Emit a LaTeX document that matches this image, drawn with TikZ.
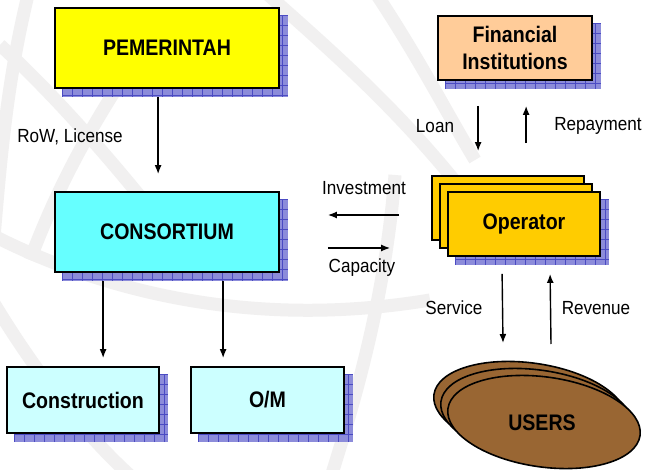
\documentclass[tikz,border=0pt]{standalone}
\usepackage{fontspec}
\setmainfont{Liberation Sans}
\newfontfamily\boxfont{Liberation Sans}[FakeStretch=0.87]
\newfontfamily\lblfont{Liberation Sans}[FakeStretch=0.9]
\usetikzlibrary{arrows.meta,calc,shapes.geometric,backgrounds}

\definecolor{govyellow}{RGB}{255,255,0}
\definecolor{consortcyan}{RGB}{102,255,255}
\definecolor{palecyan}{RGB}{204,255,255}
\definecolor{peach}{RGB}{255,204,153}
\definecolor{opgold}{RGB}{255,204,0}
\definecolor{userbrown}{RGB}{153,102,51}
\definecolor{shadefill}{RGB}{140,140,218}
\definecolor{shadeline}{RGB}{75,75,195}
\definecolor{globegray}{RGB}{241,240,240}

\tikzset{
  box/.style={draw=black, line width=1.8pt, rectangle, inner sep=0pt,
    align=center, font=\boxfont\bfseries\fontsize{22.5}{27}\selectfont},
  userell/.style={draw=black, line width=1.6pt, ellipse, fill=userbrown,
    minimum width=194pt, minimum height=90pt, inner sep=0pt, rotate=-8},
  boxtext/.style={inner sep=0pt, font=\boxfont\bfseries\fontsize{22.5}{27}\selectfont},
  lbl/.style={inner sep=0pt, font=\lblfont\fontsize{19}{22}\selectfont},
  arr/.style={line width=1.4pt, -{Latex[length=9pt,width=7pt]}},
  globe/.style={draw=globegray, line width=13pt},
}

% hatched drop shadow, offset 8 right and 8 down, drawn behind a box node
\newcommand\boxshade[1]{%
  \begin{pgfonlayer}{background}
  \begin{scope}
    \clip ($(#1.north west)+(8,8)$) rectangle ($(#1.south east)+(8,8)$);
    \fill[shadefill] ($(#1.north west)+(8,8)$) rectangle ($(#1.south east)+(8,8)$);
    \foreach \k in {0,...,25}{
      \draw[shadeline, line width=0.6pt] ($(#1.north west)+(8+10*\k,0)$) -- ++(0,300);
      \draw[shadeline, line width=0.6pt] ($(#1.north west)+(0,8+10*\k)$) -- ++(700,0);
    }
  \end{scope}
  \end{pgfonlayer}}

\begin{document}
\begin{tikzpicture}[x=1pt, y=-1pt]
\useasboundingbox (0,0) rectangle (645,470);

% faint globe watermark
\begin{pgfonlayer}{background}
\begin{scope}
  \clip (0,0) rectangle (645,470);
  \fill[white] (0,0) rectangle (645,470);
  \draw[globe] (28,-5) .. controls (5,90) and (0,170) .. (-8,260);
  \draw[globe] (-8,300) .. controls (40,380) and (90,440) .. (135,480);
  \draw[globe] (265,-8) .. controls (330,50) and (400,110) .. (470,200);
  \draw[globe] (395,175) .. controls (385,300) and (355,400) .. (330,480);
  \draw[globe] (-8,235) .. controls (100,290) and (250,330) .. (430,300);
  \draw[globe] (375,-8) .. controls (420,60) and (445,110) .. (475,160);
  \draw[globe] (0,45) .. controls (60,100) and (120,170) .. (175,240);
  \draw[globe] (135,60) .. controls (95,120) and (60,180) .. (30,260);
\end{scope}
\end{pgfonlayer}

% boxes
\node[box, fill=govyellow, minimum width=224pt, minimum height=80pt] (pem) at (167,48) {PEMERINTAH};
\node[box, fill=peach, minimum width=154pt, minimum height=64pt] (fin) at (515,48) {Financial\\Institutions};
\node[box, fill=consortcyan, minimum width=224pt, minimum height=80pt] (cons) at (167,232) {CONSORTIUM};
\node[box, fill=palecyan, minimum width=152pt, minimum height=66pt] (constr) at (83,400) {Construction};
\node[box, fill=palecyan, minimum width=153pt, minimum height=66pt] (om) at (267.5,400) {O/M};

% operator stack
\node[box, fill=opgold, minimum width=152pt, minimum height=64pt] (opback) at (508,208) {};
\node[box, fill=opgold, minimum width=152pt, minimum height=64pt] (opmid) at (516,216) {};
\node[box, fill=opgold, minimum width=152pt, minimum height=64pt] (op) at (524,224) {Operator};

% users stack
\node[userell] (usersback) at (530,408) {};
\node[userell] (usersmid) at (537,415) {};
\node[userell] (users) at (544,422) {};
\node[boxtext] (userstext) at (542,423) {USERS};

% shadows
\boxshade{pem}
\boxshade{fin}
\boxshade{cons}
\boxshade{constr}
\boxshade{om}
\boxshade{op}

% connectors
\draw[arr] ($(pem.south west)+(104,8)$) -- ($(cons.north west)+(104,-17)$);
\draw[arr] ($(cons.south west)+(49,8)$) -- ($(constr.north west)+(97,-8)$);
\draw[arr] ($(cons.south west)+(169,8)$) -- ($(om.north west)+(33,-8)$);

\draw[arr] ($(op.west)+(-48,-9)$) -- ($(cons.east)+(48,-17)$);
\draw[arr] ($(cons.east)+(48,16)$) -- ($(op.west)+(-57,24)$);

\draw[arr] ($(fin.south west)+(41,25)$) -- ($(opback.north west)+(47,-24)$);
\draw[arr] ($(opback.north west)+(95,-32)$) -- ($(fin.south west)+(89,25)$);

\draw[arr] ($(op.south west)+(55,17)$) -- ($(users.center)+(-41,-79)$);
\draw[arr] ($(users.center)+(7,-78)$) -- ($(op.south west)+(103,17)$);

% labels
\node[lbl] (lrow) at (70,137) {RoW, License};
\node[lbl] (linv) at (364,188) {Investment};
\node[lbl] (lcap) at (362,268) {Capacity};
\node[lbl] (lloan) at (435,126) {Loan};
\node[lbl] (lrep) at (598,126) {Repayment};
\node[lbl] (lserv) at (454,308) {Service};
\node[lbl] (lrev) at (596,308) {Revenue};
\end{tikzpicture}
\end{document}
